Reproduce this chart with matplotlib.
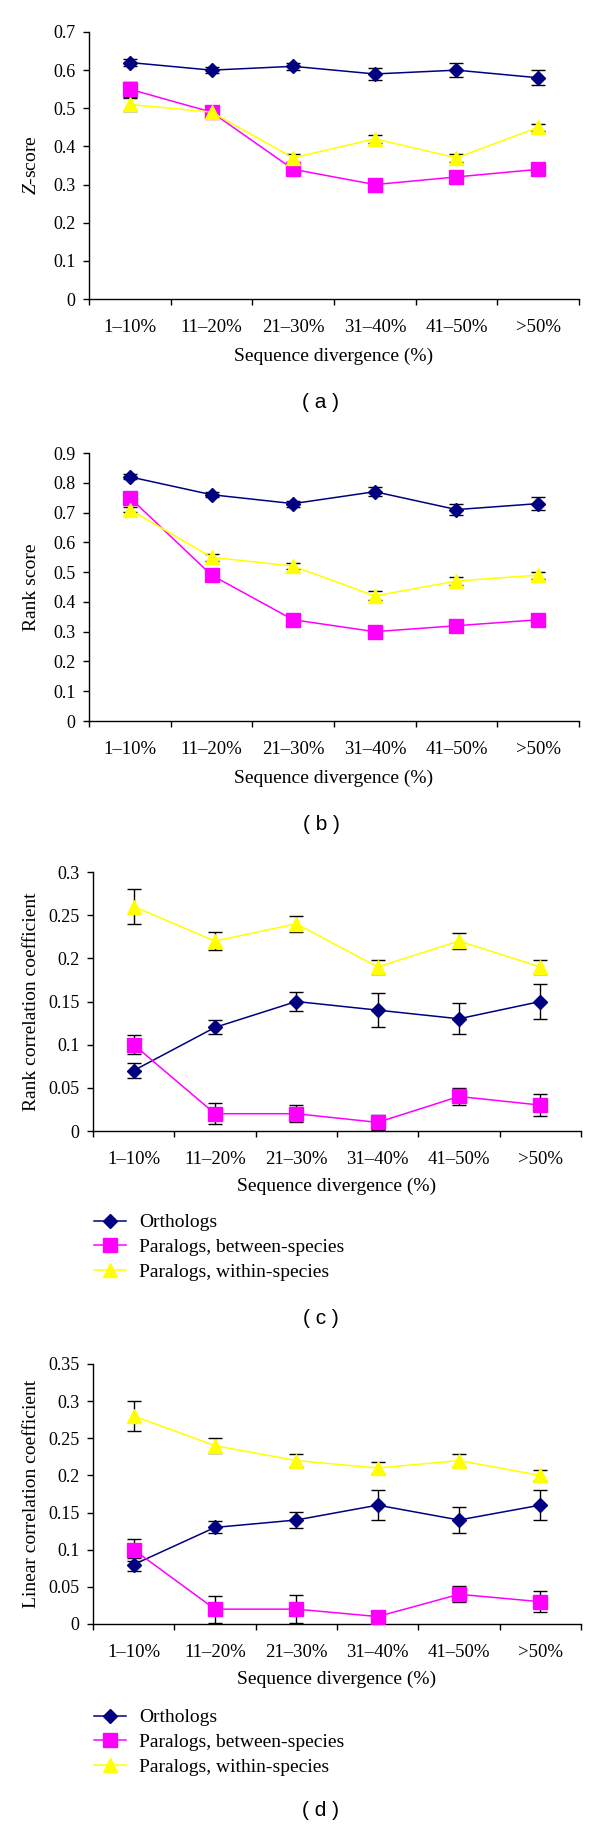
"""Four-panel divergence figure: Z-score, rank score, rank / linear correlation."""
import matplotlib
matplotlib.use("Agg")
import matplotlib.pyplot as plt
from matplotlib.lines import Line2D

plt.rcParams["font.family"] = ["Liberation Serif", "DejaVu Serif"]
plt.rcParams["mathtext.fontset"] = "custom"
plt.rcParams["mathtext.it"] = "Liberation Serif:italic"
plt.rcParams["mathtext.rm"] = "Liberation Serif"

CATS = ["1\u201310%", "11\u201320%", "21\u201330%", "31\u201340%", "41\u201350%", ">50%"]
SERIES = ["Orthologs", "Paralogs, between-species", "Paralogs, within-species"]

# (a) Z-score
Z_ORTH = [0.62, 0.60, 0.61, 0.59, 0.60, 0.58]
Z_ORTH_ERR = [0.010, 0.008, 0.010, 0.015, 0.018, 0.020]
Z_BETW = [0.55, 0.49, 0.34, 0.30, 0.32, 0.34]
Z_BETW_ERR = [0.020, 0.008, 0.008, 0.008, 0.008, 0.008]
Z_WITH = [0.51, 0.49, 0.37, 0.42, 0.37, 0.45]
Z_WITH_ERR = [0.018, 0.008, 0.010, 0.010, 0.010, 0.010]

# (b) Rank score
R_ORTH = [0.82, 0.76, 0.73, 0.77, 0.71, 0.73]
R_ORTH_ERR = [0.008, 0.008, 0.010, 0.015, 0.018, 0.022]
R_BETW = [0.75, 0.49, 0.34, 0.30, 0.32, 0.34]
R_BETW_ERR = [0.008, 0.008, 0.008, 0.008, 0.008, 0.008]
R_WITH = [0.71, 0.55, 0.52, 0.42, 0.47, 0.49]
R_WITH_ERR = [0.008, 0.012, 0.010, 0.015, 0.012, 0.012]

# (c) Rank correlation coefficient
RC_ORTH = [0.07, 0.12, 0.15, 0.14, 0.13, 0.15]
RC_ORTH_ERR = [0.009, 0.008, 0.011, 0.020, 0.018, 0.020]
RC_BETW = [0.10, 0.02, 0.02, 0.01, 0.04, 0.03]
RC_BETW_ERR = [0.011, 0.012, 0.010, 0.009, 0.010, 0.013]
RC_WITH = [0.26, 0.22, 0.24, 0.19, 0.22, 0.19]
RC_WITH_ERR = [0.020, 0.010, 0.009, 0.008, 0.009, 0.008]

# (d) Linear correlation coefficient
LC_ORTH = [0.08, 0.13, 0.14, 0.16, 0.14, 0.16]
LC_ORTH_ERR = [0.009, 0.008, 0.011, 0.020, 0.018, 0.020]
LC_BETW = [0.10, 0.02, 0.02, 0.01, 0.04, 0.03]
LC_BETW_ERR = [0.015, 0.018, 0.019, 0.008, 0.011, 0.014]
LC_WITH = [0.28, 0.24, 0.22, 0.21, 0.22, 0.20]
LC_WITH_ERR = [0.020, 0.010, 0.009, 0.008, 0.009, 0.007]

STYLE = [
    dict(color="#000080", marker="D", ms=7.0),
    dict(color="#ff00ff", marker="s", ms=9.8),
    dict(color="#ffff00", marker="^", ms=10.5),
]

W, H = 600, 1827
fig = plt.figure(figsize=(W / 100, H / 100), dpi=100)


def px_axes(left, top, right, bottom):
    ax = fig.add_axes([left / W, 1 - bottom / H, (right - left) / W, (bottom - top) / H])
    ax._px = (left, top, right, bottom)
    return ax


def panel(ax, data, ytop, ystep, ylabel, xlab_px):
    left, top, right, bottom = ax._px
    x = [i + 0.5 for i in range(len(CATS))]
    for (vals, errs), st in zip(data, STYLE):
        ax.errorbar(x, vals, yerr=errs, fmt="none", ecolor="black",
                    elinewidth=1.0, capsize=4.7, capthick=1.0, zorder=2)
        ax.plot(x, vals, color=st["color"], lw=1.1, marker=st["marker"],
                ms=st["ms"], mfc=st["color"], mec=st["color"], mew=1.0, zorder=3)
    ax.set_xlim(0, len(CATS))
    ax.set_ylim(0, ytop)
    n = int(round(ytop / ystep))
    yt = [round(i * ystep, 3) for i in range(n + 1)]
    ax.set_yticks(yt)
    ax.set_yticklabels([f"{v:g}" for v in yt], fontsize=13)
    ax.set_xticks(range(len(CATS) + 1))
    ax.set_xticklabels([])
    ax.set_xticks(x, minor=True)
    ax.set_xticklabels(CATS, minor=True, fontsize=13.5)
    ax.tick_params(axis="x", which="major", direction="out", length=4.3, width=1)
    ax.tick_params(axis="x", which="minor", length=0, pad=14.5)
    ax.tick_params(axis="y", direction="out", length=4.3, width=1, pad=5.5)
    for s in ("top", "right"):
        ax.spines[s].set_visible(False)
    for s in ("left", "bottom"):
        ax.spines[s].set_linewidth(1.0)
    ax.set_xlabel("Sequence divergence (%)", fontsize=14)
    ax.xaxis.set_label_coords(0.5, -xlab_px / (bottom - top))
    ax.set_ylabel(ylabel, fontsize=14)
    ax.yaxis.set_label_coords((40 - left) / (right - left), 0.5)


def legend(top_px):
    handles = [Line2D([0], [0], color=st["color"], lw=1.1, marker=st["marker"],
                      ms=st["ms"], mfc=st["color"], mec=st["color"])
               for st in STYLE]
    fig.legend(handles, SERIES, loc="upper left",
               bbox_to_anchor=(86 / W, 1 - top_px / H), frameon=False,
               fontsize=14, handlelength=1.65, handletextpad=0.67,
               labelspacing=0.37, borderaxespad=0)


def tag(letter, y_px):
    fig.text(321 / W, 1 - y_px / H, f"( {letter} )", ha="center", va="center",
             fontsize=15, family="Liberation Sans")


ax_a = px_axes(89, 32, 579, 299)
panel(ax_a, [(Z_ORTH, Z_ORTH_ERR), (Z_BETW, Z_BETW_ERR), (Z_WITH, Z_WITH_ERR)],
      0.7, 0.1, "$Z$-score", 49)
tag("a", 403)

ax_b = px_axes(89, 453, 579, 721)
panel(ax_b, [(R_ORTH, R_ORTH_ERR), (R_BETW, R_BETW_ERR), (R_WITH, R_WITH_ERR)],
      0.9, 0.1, "Rank score", 49)
tag("b", 825)

ax_c = px_axes(93, 872, 581, 1131)
panel(ax_c, [(RC_ORTH, RC_ORTH_ERR), (RC_BETW, RC_BETW_ERR), (RC_WITH, RC_WITH_ERR)],
      0.3, 0.05, "Rank correlation coefficient", 47)
legend(1206)
tag("c", 1318)

ax_d = px_axes(93, 1364, 581, 1624)
panel(ax_d, [(LC_ORTH, LC_ORTH_ERR), (LC_BETW, LC_BETW_ERR), (LC_WITH, LC_WITH_ERR)],
      0.35, 0.05, "Linear correlation coefficient", 47)
legend(1701)
tag("d", 1810)

fig.savefig("out.png", dpi=100, facecolor="white")
